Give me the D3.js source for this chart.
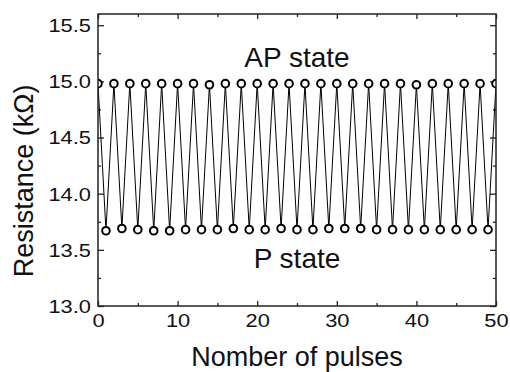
<!DOCTYPE html>
<html>
<head>
<meta charset="utf-8">
<script src="https://cdn.jsdelivr.net/npm/d3@7"></script>
<style>
  body { margin: 0; background: #fff; }
  svg { display: block; font-family: "Liberation Sans", Arial, sans-serif; }
</style>
</head>
<body>
<svg id="chart"></svg>
<script>
const pulses = [0, 1, 2, 3, 4, 5, 6, 7, 8, 9, 10, 11, 12, 13, 14, 15, 16, 17, 18, 19, 20,
  21, 22, 23, 24, 25, 26, 27, 28, 29, 30, 31, 32, 33, 34, 35, 36, 37, 38, 39, 40,
  41, 42, 43, 44, 45, 46, 47, 48, 49, 50];
const resistance = [14.98, 13.67, 14.98, 13.69, 14.98, 13.68, 14.98, 13.67, 14.98, 13.67, 14.98,
  13.68, 14.98, 13.68, 14.97, 13.68, 14.98, 13.69, 14.98, 13.68, 14.98,
  13.68, 14.98, 13.69, 14.98, 13.68, 14.98, 13.68, 14.98, 13.69, 14.98,
  13.69, 14.98, 13.69, 14.98, 13.68, 14.98, 13.68, 14.98, 13.68, 14.97,
  13.68, 14.98, 13.68, 14.98, 13.68, 14.98, 13.68, 14.98, 13.68, 14.98];
const xMajor = [0, 10, 20, 30, 40, 50];
const xMinor = [5, 15, 25, 35, 45];
const yMajor = [13.0, 13.5, 14.0, 14.5, 15.0, 15.5];
const yMinor = [13.25, 13.75, 14.25, 14.75, 15.25];
const states = [
  { label: 'AP state', x: 25, y: 15.13 },
  { label: 'P state', x: 25, y: 13.34 }
];

const width = 510, height = 372;
const margin = { top: 14, right: 14, bottom: 66, left: 98 };
const w = width - margin.left - margin.right;
const h = height - margin.top - margin.bottom;
const stretch = 1.25; // tick digits look wider than they are tall

const svg = d3.select('#chart').attr('width', width).attr('height', height);
const g = svg.append('g').attr('transform', `translate(${margin.left},${margin.top})`);

const x = d3.scaleLinear().domain([0, 50]).range([0, w]);
const y = d3.scaleLinear().domain([13, 15.6]).range([h, 0]);

g.append('defs').append('clipPath').attr('id', 'plot')
  .append('rect').attr('width', w).attr('height', h);

function styleAxis(sel) {
  sel.select('.domain').remove();
  sel.selectAll('line').attr('stroke', '#222').attr('stroke-width', 1.3);
  sel.selectAll('text').attr('fill', '#111');
}

// bottom
g.append('g').attr('transform', `translate(0,${h})`)
  .call(d3.axisBottom(x).tickValues(xMajor).tickSizeInner(-5).tickSizeOuter(0)
    .tickPadding(9).tickFormat(d3.format('d')))
  .call(styleAxis)
  .call(a => a.selectAll('text').attr('font-size', 17.5)
    .attr('transform', `scale(${stretch},1)`));
g.append('g').attr('transform', `translate(0,${h})`)
  .call(d3.axisBottom(x).tickValues(xMinor).tickSizeInner(-3).tickSizeOuter(0).tickFormat(''))
  .call(styleAxis);

// top
g.append('g')
  .call(d3.axisTop(x).tickValues(xMajor).tickSizeInner(-5).tickSizeOuter(0).tickFormat(''))
  .call(styleAxis);
g.append('g')
  .call(d3.axisTop(x).tickValues(xMinor).tickSizeInner(-3).tickSizeOuter(0).tickFormat(''))
  .call(styleAxis);

// left
g.append('g')
  .call(d3.axisLeft(y).tickValues(yMajor).tickSizeInner(-6).tickSizeOuter(0)
    .tickPadding(7).tickFormat(d3.format('.1f')))
  .call(styleAxis)
  .call(a => a.selectAll('text').attr('font-size', 17.5)
    .attr('x', -7 / stretch).attr('dy', '0.36em')
    .attr('transform', `scale(${stretch},1)`));
g.append('g')
  .call(d3.axisLeft(y).tickValues(yMinor).tickSizeInner(-3).tickSizeOuter(0).tickFormat(''))
  .call(styleAxis);

// right
g.append('g').attr('transform', `translate(${w},0)`)
  .call(d3.axisRight(y).tickValues(yMajor).tickSizeInner(-6).tickSizeOuter(0).tickFormat(''))
  .call(styleAxis);
g.append('g').attr('transform', `translate(${w},0)`)
  .call(d3.axisRight(y).tickValues(yMinor).tickSizeInner(-3).tickSizeOuter(0).tickFormat(''))
  .call(styleAxis);

const data = pulses.map((p, i) => [p, resistance[i]]);

const plot = g.append('g').attr('clip-path', 'url(#plot)');
plot.append('path')
  .datum(data)
  .attr('fill', 'none')
  .attr('stroke', '#000')
  .attr('stroke-width', 1)
  .attr('d', d3.line().x(d => x(d[0])).y(d => y(d[1])));

plot.selectAll('circle')
  .data(data)
  .join('circle')
  .attr('cx', d => x(d[0]))
  .attr('cy', d => y(d[1]))
  .attr('r', 3.8)
  .attr('fill', '#fff')
  .attr('stroke', '#000')
  .attr('stroke-width', 2);

// frame
g.append('rect')
  .attr('width', w).attr('height', h)
  .attr('fill', 'none').attr('stroke', '#222').attr('stroke-width', 1.5);

g.selectAll('.state')
  .data(states)
  .join('text')
  .attr('class', 'state')
  .attr('x', d => x(d.x))
  .attr('y', d => y(d.y))
  .attr('text-anchor', 'middle')
  .attr('font-size', 28)
  .attr('fill', '#111')
  .text(d => d.label);

// axis titles
svg.append('text')
  .attr('x', margin.left + w / 2)
  .attr('y', 366)
  .attr('text-anchor', 'middle')
  .attr('font-size', 27)
  .attr('fill', '#111')
  .text('Nomber of pulses');

svg.append('text')
  .attr('transform', `translate(33,${margin.top + 167}) rotate(-90)`)
  .attr('text-anchor', 'middle')
  .attr('font-size', 27)
  .attr('fill', '#111')
  .text('Resistance (kΩ)');
</script>
</body>
</html>
